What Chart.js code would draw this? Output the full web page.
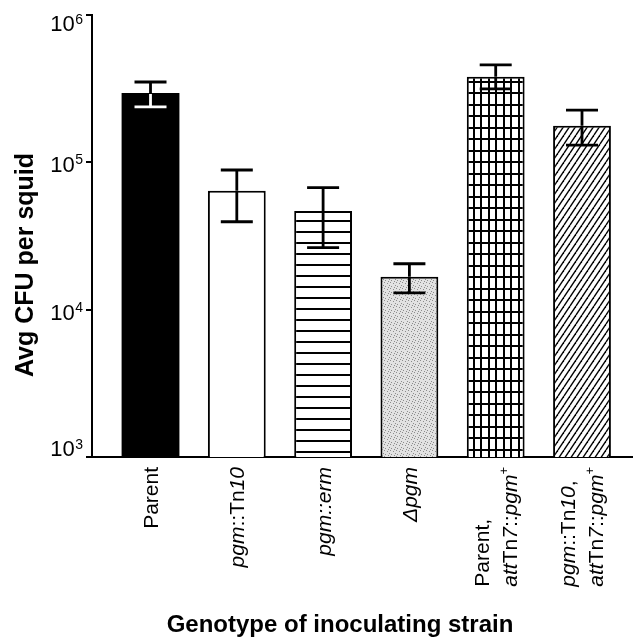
<!DOCTYPE html>
<html>
<head>
<meta charset="utf-8">
<script src="https://cdn.jsdelivr.net/npm/chart.js@4.4.0/dist/chart.umd.min.js"></script>
<style>
body{margin:0;background:#fff;}
#wrap{width:633px;height:637px;}
</style>
</head>
<body>
<div id="wrap"><canvas id="cfuChart" width="633" height="637"></canvas></div>
<script>
// labels: *..* = italic, ^..^ = superscript
const strainLabels = [
    ['Parent'],
    ['*pgm*::Tn*10*'],
    ['*pgm::erm*'],
    ['*Δpgm*'],
    ['Parent,', '*att*Tn*7*::*pgm*^+^'],
    ['*pgm*::Tn*10*,', '*att*Tn*7*::*pgm*^+^']
];
const avgCfu  = [296000, 64200, 46700, 16750, 381000, 177000];
const errHigh = [351000, 88700, 67300, 20500, 458000, 226000];
const errLow  = [238000, 39500, 26400, 13000, 315000, 131000];
const decades = [1e3, 1e4, 1e5, 1e6];
const decadeExp = ['3', '4', '5', '6'];
const yTitle = 'Avg CFU per squid';
const xTitle = 'Genotype of inoculating strain';

const FONT = '"Liberation Sans", Arial, Helvetica, sans-serif';
var ctx = document.getElementById('cfuChart').getContext('2d');

function makePattern(w, h, draw){
    const c = document.createElement('canvas');
    c.width = w; c.height = h;
    const g = c.getContext('2d');
    g.fillStyle = '#fff';
    g.fillRect(0, 0, w, h);
    draw(g, w, h);
    return ctx.createPattern(c, 'repeat');
}

const hLines = makePattern(8, 11, g => {
    g.fillStyle = '#000';
    g.fillRect(0, 0, 8, 2);
});
const stipple = makePattern(6, 6, g => {
    g.fillStyle = '#e2e2e2';
    g.fillRect(0, 0, 6, 6);
    g.fillStyle = '#8c8c8c';
    [[0,0],[3,1],[5,3],[1,4],[4,5]].forEach(p => g.fillRect(p[0], p[1], 1, 1));
});
const gridFill = makePattern(15, 23, g => {
    g.fillStyle = '#000';
    g.fillRect(0, 0, 2, 23);
    g.fillRect(8, 0, 2, 23);
    g.fillRect(0, 0, 15, 2);
    g.fillRect(0, 12, 15, 2);
});
const hatch = makePattern(6, 9, g => {
    g.strokeStyle = '#000';
    g.lineWidth = 1.4;
    for (const dx of [-6, 0, 6]){
        g.beginPath();
        g.moveTo(dx, 9);
        g.lineTo(dx + 6, 0);
        g.stroke();
    }
});
const fills = ['#000', '#fff', hLines, stipple, gridFill, hatch];

function parseRich(str){
    const segs = [];
    let italic = false, sup = false, buf = '';
    for (const ch of str){
        if (ch === '*' || ch === '^'){
            if (buf) segs.push({t: buf, italic, sup});
            buf = '';
            if (ch === '*') italic = !italic; else sup = !sup;
        } else {
            buf += ch;
        }
    }
    if (buf) segs.push({t: buf, italic, sup});
    return segs;
}

function segFont(s){
    return (s.italic ? 'italic ' : '') + (s.sup ? '13px ' : '21px ') + FONT;
}

const annotate = {
    id: 'annotate',
    afterDatasetsDraw(chart){
        const {ctx, scales: {x, y}} = chart;
        ctx.save();
        ctx.lineWidth = 2.8;
        avgCfu.forEach((v, i) => {
            const cx = x.getPixelForValue(i);
            const top = y.getPixelForValue(errHigh[i]);
            const bot = y.getPixelForValue(errLow[i]);
            const bar = y.getPixelForValue(v);
            ctx.strokeStyle = '#000';
            ctx.beginPath();
            ctx.moveTo(cx, top); ctx.lineTo(cx, bar);
            ctx.moveTo(cx - 16, top); ctx.lineTo(cx + 16, top);
            ctx.stroke();
            // lower half sits inside the bar, white on the solid one
            ctx.strokeStyle = i === 0 ? '#fff' : '#000';
            ctx.beginPath();
            ctx.moveTo(cx, bar + 1); ctx.lineTo(cx, bot);
            ctx.moveTo(cx - 16, bot); ctx.lineTo(cx + 16, bot);
            ctx.stroke();
        });
        ctx.restore();
    },
    afterDraw(chart){
        const {ctx, chartArea, scales: {x, y}} = chart;
        ctx.save();
        ctx.fillStyle = '#000';

        // y tick labels 10^n
        decades.forEach((v, k) => {
            const py = y.getPixelForValue(v);
            const cy = Math.min(Math.max(py + 2, chartArea.top + 8.5), chartArea.bottom - 8.5);
            ctx.textAlign = 'right';
            ctx.textBaseline = 'alphabetic';
            ctx.font = '14px ' + FONT;
            const ew = ctx.measureText(decadeExp[k]).width;
            ctx.fillText(decadeExp[k], 83, cy);
            ctx.font = '22px ' + FONT;
            ctx.fillText('10', 83 - ew - 0.5, cy + 7.9);
        });

        // rotated category labels
        ctx.textAlign = 'left';
        ctx.textBaseline = 'alphabetic';
        strainLabels.forEach((lines, i) => {
            const cx = x.getPixelForValue(i);
            const parsed = lines.map(parseRich);
            const widths = parsed.map(segs => segs.reduce((w, s) => {
                ctx.font = segFont(s);
                return w + ctx.measureText(s.t).width;
            }, 0));
            const maxW = Math.max(...widths);
            ctx.save();
            ctx.translate(cx, chartArea.bottom + 10);
            ctx.rotate(-Math.PI / 2);
            parsed.forEach((segs, k) => {
                const off = (k - (parsed.length - 1) / 2) * 28;
                let px = -maxW;
                segs.forEach(s => {
                    ctx.font = segFont(s);
                    ctx.fillText(s.t, px, off + 7.5 - (s.sup ? 9 : 0));
                    px += ctx.measureText(s.t).width;
                });
            });
            ctx.restore();
        });

        // axis titles
        ctx.font = 'bold 24px ' + FONT;
        ctx.textAlign = 'center';
        ctx.fillText(xTitle, 340, 632);

        ctx.save();
        ctx.translate(33, 265);
        ctx.rotate(-Math.PI / 2);
        ctx.font = 'bold 25px ' + FONT;
        ctx.fillText(yTitle, 0, 0);
        ctx.restore();

        ctx.restore();
    }
};

const cfuChart = new Chart(ctx, {
    type: 'bar',
    data: {
        datasets: [{
            data: avgCfu.map((v, i) => ({x: i, y: v})),
            backgroundColor: fills,
            borderColor: '#000',
            borderWidth: [0, 2, 2, 2, 2, 2],
            inflateAmount: 0,
            barPercentage: 0.67,
            categoryPercentage: 1
        }]
    },
    options: {
        responsive: false,
        animation: false,
        layout: {padding: {top: 15, left: 0, right: 0, bottom: 0}},
        plugins: {
            legend: {display: false},
            tooltip: {enabled: false}
        },
        scales: {
            x: {
                type: 'linear',
                offset: false,
                min: -0.678,
                max: 5.591,
                grid: {display: false},
                ticks: {display: false},
                border: {display: true, color: '#000', width: 2},
                afterFit: s => { s.height = 180; }
            },
            y: {
                type: 'logarithmic',
                min: 1e3,
                max: 1e6,
                ticks: {display: false},
                afterBuildTicks: s => { s.ticks = decades.map(v => ({value: v})); },
                grid: {display: true, drawOnChartArea: false, drawTicks: true, tickLength: 6, color: '#000', lineWidth: 2},
                border: {display: true, color: '#000', width: 2},
                afterFit: s => { s.width = 92; }
            }
        }
    },
    plugins: [annotate]
});
</script>
</body>
</html>
